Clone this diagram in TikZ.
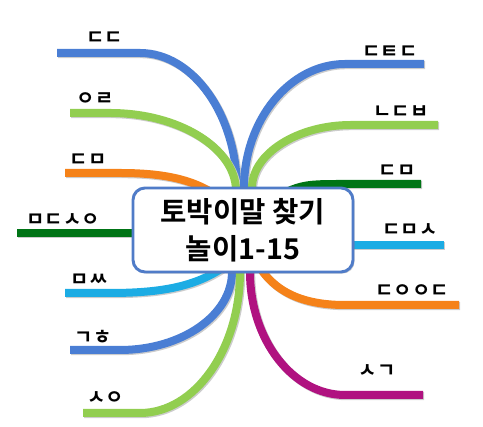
\documentclass[tikz,border=0pt]{standalone}
\usepackage{fontspec}
\newfontfamily\kofont{Noto Sans CJK KR}[BoldFont={Noto Sans CJK KR Bold}]
\usetikzlibrary{calc,shadows,backgrounds}

\definecolor{lineblue}{RGB}{74,126,212}
\definecolor{linegreen}{RGB}{146,206,80}
\definecolor{lineorange}{RGB}{245,130,25}
\definecolor{linedkgreen}{RGB}{0,116,22}
\definecolor{linecyan}{RGB}{28,172,228}
\definecolor{linemagenta}{RGB}{176,18,128}
\definecolor{hubborder}{RGB}{80,124,200}

\tikzset{
  branch/.style={line width=6pt,
    preaction={draw=black!20, line width=6pt,
      transform canvas={shift={(0.9pt,-0.9pt)}}}},
  twig/.style={font=\kofont\bfseries\fontsize{15}{17}\selectfont, inner sep=0pt},
  hubbox/.style={draw=hubborder, line width=2.2pt, fill=white,
    rounded corners=9pt, minimum width=165pt, minimum height=63pt,
    align=center, font=\kofont\bfseries\fontsize{21.5}{28}\selectfont,
    drop shadow={shadow xshift=1.2pt, shadow yshift=-1.2pt, opacity=0.35}}
}

\begin{document}
\begin{tikzpicture}[x=0.75pt,y=0.75pt]
    \useasboundingbox (0,0) rectangle (483,427);

    % Centre box
    \node[hubbox] (hub) at (243,197) {토박이말 찾기\\놀이1-15};

    % Free ends of the branches
    \coordinate (dd) at (57,374);
    \coordinate (or) at (70,314);
    \coordinate (dm) at (65,254);
    \coordinate (mdso) at (17,194);
    \coordinate (mss) at (65,134);
    \coordinate (gh) at (70,77);
    \coordinate (so) at (83,14);
    \coordinate (dtd) at (424,363);
    \coordinate (ndb) at (438,302);
    \coordinate (dm2) at (421,243);
    \coordinate (dms) at (444,182);
    \coordinate (dood) at (459,122);
    \coordinate (sg) at (423,32);

    % Branches, under the box
    \begin{scope}[on background layer]
    % left side
    \draw[branch, lineblue] ($(hub.north)+(-6,-30)$) -- (237,237)
        .. controls (237,312) and (193,374) .. (140,374) -- (dd);
    \draw[branch, linegreen] ($(hub.north)+(-7,-30)$) -- (236,237)
        .. controls (235,279) and (179,314) .. (110,314) -- (or);
    \draw[branch, lineorange] ($(hub.north)+(-5,-30)$)
        .. controls (212,245) and (172,254) .. (120,254) -- (dm);
    \draw[branch, linedkgreen] (mdso -| hub.center) -- (mdso);
    \draw[branch, linecyan] ($(hub.south)+(-8,15)$)
        .. controls (205,143) and (170,134) .. (110,134) -- (mss);
    \draw[branch, lineblue] ($(hub.south)+(-9,25)$) -- (232,155)
        .. controls (232,112) and (182,77) .. (120,77) -- (gh);
    \draw[branch, linegreen] ($(hub.south)+(-3,25)$) -- (240,155)
        .. controls (240,78) and (195,14) .. (140,14) -- (so);

    % right side
    \draw[branch, lineblue] ($(hub.north)+(-1,-30)$) -- (244,239)
        .. controls (244,307) and (290,363) .. (345,363) -- (dtd);
    \draw[branch, linegreen] ($(hub.north)+(5,-30)$) -- (252,239)
        .. controls (252,273) and (297,302) .. (351,302) -- (ndb);
    \draw[branch, linedkgreen] ($(hub.north)+(15,-20)$)
        .. controls (300,243) .. (345,243) -- (dm2);
    \draw[branch, linecyan] (dms -| hub.center) -- (dms);
    \draw[branch, lineorange] ($(hub.south)+(7,25)$)
        .. controls (265,140) and (295,122) .. (345,122) -- (dood);
    \draw[branch, linemagenta] ($(hub.south)+(6,25)$) -- (250,155)
        .. controls (250,87) and (293,32) .. (345,32) -- (sg);
    \end{scope}

    % Labels
    \node[twig] (t-dd) at (105,389) {ㄷㄷ};
    \node[twig] (t-or) at (95,328) {ㅇㄹ};
    \node[twig] (t-dm) at (88,267) {ㄷㅁ};
    \node[twig] (t-mdso) at (63,207) {ㅁㄷㅅㅇ};
    \node[twig] (t-mss) at (89,147) {ㅁㅆ};
    \node[twig] (t-gh) at (93,90) {ㄱㅎ};
    \node[twig] (t-so) at (106,29) {ㅅㅇ};
    \node[twig] (t-dtd) at (390,375) {ㄷㅌㄷ};
    \node[twig] (t-ndb) at (401,315) {ㄴㄷㅂ};
    \node[twig] (t-dm2) at (397,256) {ㄷㅁ};
    \node[twig] (t-dms) at (410,197) {ㄷㅁㅅ};
    \node[twig] (t-dood) at (412,136) {ㄷㅇㅇㄷ};
    \node[twig] (t-sg) at (377,56) {ㅅㄱ};

\end{tikzpicture}
\end{document}
